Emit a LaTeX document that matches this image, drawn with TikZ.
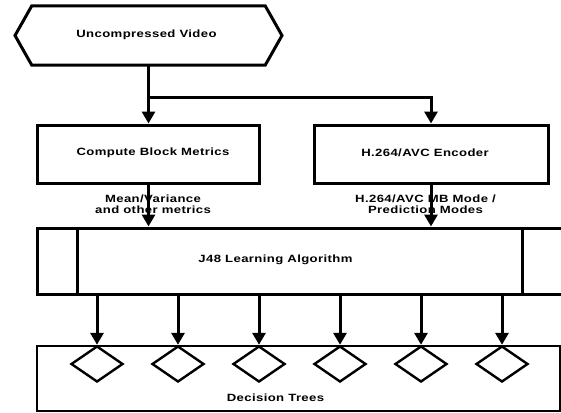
\documentclass[tikz,border=0pt]{standalone}
\usepackage{fontspec}
\newfontfamily\lab[LetterSpace=3]{Liberation Sans}
\usetikzlibrary{arrows.meta,shapes.geometric}
\begin{document}
\begin{tikzpicture}[x=1pt,y=-1pt,
  box/.style={draw,line width=3pt,inner sep=0pt},
  thinbox/.style={draw,line width=2.2pt,inner sep=0pt},
  txt/.style={font=\lab\bfseries\fontsize{10.5}{11}\selectfont,align=center,inner sep=0pt,xscale=1.25,transform shape},
  dia/.style={draw,diamond,line width=2.4pt,inner sep=0pt,aspect=1.44,minimum width=52pt,minimum height=36pt},
  arr/.style={line width=3pt,-{Triangle[width=13pt,length=12pt]}}]
\useasboundingbox[fill=white] (0,0) rectangle (561,412);
% hexagon
\node[inner sep=0pt,minimum width=233pt,minimum height=59pt] (uv) at (148.5,35.5) {};
\draw[line width=3pt,line join=miter] (15,35.5) -- (uv.north west) -- (uv.north east) -- (282,35.5) -- (uv.south east) -- (uv.south west) -- cycle;
\node[txt] (uvt) at (146.5,35) {Uncompressed Video};
% boxes
\node[box,minimum width=222pt,minimum height=58pt] (cbm) at (148.5,154) {};
\node[txt] (cbmt) at (153,153) {Compute Block Metrics};
\node[box,minimum width=234pt,minimum height=58pt] (enc) at (431,154) {};
\node[txt] (enct) at (425,153) {H.264/AVC Encoder};
% J48
\node[box,minimum width=526pt,minimum height=66pt] (j48) at (300,261) {};
\draw[line width=3pt] (77,228) -- (77,294);
\draw[line width=3pt] (522,228) -- (522,294);
\node[txt] (j48t) at (275.5,260) {J48 Learning Algorithm};
% decision trees
\node[thinbox,minimum width=523pt,minimum height=65pt] (dt) at (298.5,378.5) {};
\node[txt] (dtt) at (275.5,398) {Decision Trees};
% connectors top
\coordinate (br) at (150,97);
\draw[arr] (cbm.north |- uv.south) -- (cbm.north);
\draw[arr,line join=miter] (br) -| (enc.north);
\draw[arr] (cbm.south) -- (j48.north -| cbm.south);
\draw[arr] (enc.south) -- (j48.north -| enc.south);
\node[txt] (l1) at (153,204.5) {Mean/Variance\\and other metrics};
\node[txt] (l2) at (425.5,204.5) {H.264/AVC MB Mode /\\Prediction Modes};
% diamonds
\foreach \i/\x in {1/97,2/178,3/259,4/340,5/421,6/502}{
  \node[dia] (d\i) at (\x,364) {};
  \draw[arr] (d\i.north |- j48.south) -- (d\i.north);
}
\end{tikzpicture}
\end{document}
